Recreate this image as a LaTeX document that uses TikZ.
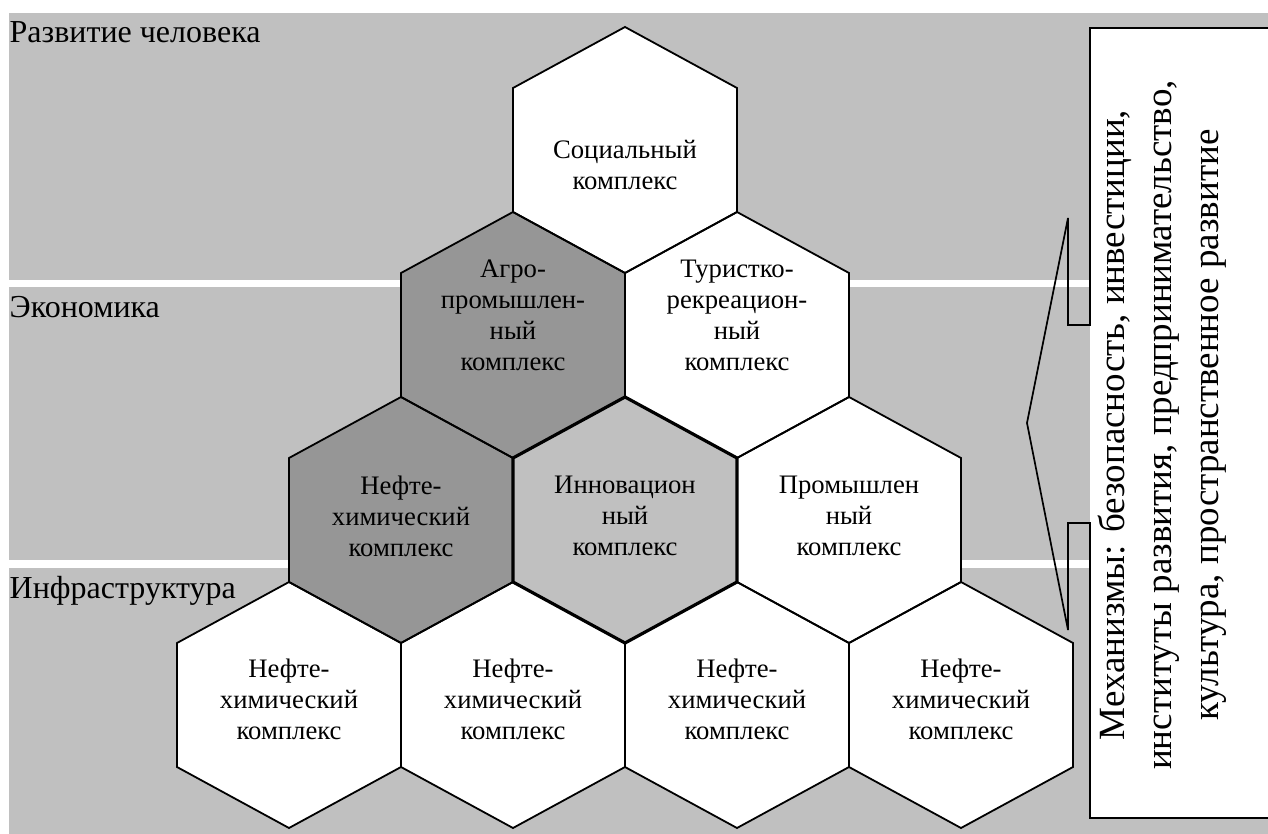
\documentclass[tikz,border=0pt]{standalone}
\usepackage{fontspec}
\setmainfont{Liberation Serif}
\definecolor{bandgray}{HTML}{C0C0C0}
\definecolor{darkhex}{HTML}{969696}
\tikzset{
  hexa/.pic={\path[pic actions] (0,-123) -- (112,-62) -- (112,62) -- (0,123) -- (-112,62) -- (-112,-62) -- cycle;},
  band/.style={fill=bandgray},
  whitecell/.style={fill=white},
  darkcell/.style={fill=darkhex},
  innocell/.style={fill=bandgray},
  hexedge/.style={draw=black, line width=1.8pt, line join=miter},
  hexbold/.style={draw=black, line width=3.2pt, line join=miter},
  hextext/.style={font=\fontsize{26.7}{31}\selectfont, align=center, anchor=north, inner sep=0pt},
  bandlabel/.style={font=\fontsize{32}{38}\selectfont, anchor=base west, inner sep=0pt},
  callout/.style={draw=black, line width=1.7pt, line join=miter},
  mechtext/.style={font=\fontsize{37}{47}\selectfont, align=center, rotate=90, anchor=north, inner sep=0pt}
}
\begin{document}
\begin{tikzpicture}[x=1pt,y=-1pt]
\useasboundingbox (0,0) rectangle (1268,834);
\clip (0,0) rectangle (1268,834);
% bands
\fill[band] (9,13) rectangle (1268,280);
\fill[band] (9,287) rectangle (1268,560);
\fill[band] (9,568) rectangle (1268,834);
% band labels
\node[bandlabel] (lhuman) at (9.5,43) {Развитие человека};
\node[bandlabel] (lecon) at (9.5,317) {Экономика};
\node[bandlabel] (linfra) at (9.5,598) {Инфраструктура};
% hex fills
\pic[whitecell] at (625,150) {hexa};
\pic[darkcell] at (513,335) {hexa};
\pic[whitecell] at (737,335) {hexa};
\pic[darkcell] at (401,520) {hexa};
\pic[innocell] at (625,520) {hexa};
\pic[whitecell] at (849,520) {hexa};
\pic[whitecell] at (289,705) {hexa};
\pic[whitecell] at (513,705) {hexa};
\pic[whitecell] at (737,705) {hexa};
\pic[whitecell] at (961,705) {hexa};
% hex edges
\foreach \cx/\cy in {625/150, 513/335, 737/335, 401/520, 849/520, 289/705, 513/705, 737/705, 961/705}
  \pic[hexedge] at (\cx,\cy) {hexa};
\pic[hexbold] at (625,520) {hexa};
% hex texts
\node[hextext] (soc) at (625,140) {Социальный\\комплекс};
\node[hextext] (agro) at (513,260) {Агро-\\промышлен-\\ный\\комплекс};
\node[hextext] (tour) at (737,260) {Туристко-\\рекреацион-\\ный\\комплекс};
\node[hextext] (neft) at (401,476) {Нефте-\\химический\\комплекс};
\node[hextext] (inno) at (625,476) {Инновацион\\ный\\комплекс};
\node[hextext] (prom) at (849,476) {Промышлен\\ный\\комплекс};
\node[hextext] (neftA) at (289,659) {Нефте-\\химический\\комплекс};
\node[hextext] (neftB) at (513,659) {Нефте-\\химический\\комплекс};
\node[hextext] (neftC) at (737,659) {Нефте-\\химический\\комплекс};
\node[hextext] (neftD) at (961,659) {Нефте-\\химический\\комплекс};
% callout
\fill[white] (1090,28) rectangle (1290,818);
\draw[callout] (1290,28) -- (1090,28) -- (1090,325) -- (1068,325) -- (1068,218) -- (1027,423) -- (1068,630) -- (1068,523) -- (1090,523) -- (1090,818) -- (1290,818);
\node[mechtext] (mech) at (1098,425) {Механизмы: безопасность, инвестиции,\\институты развития, предпринимательство,\\культура, пространственное развитие};
\end{tikzpicture}
\end{document}
